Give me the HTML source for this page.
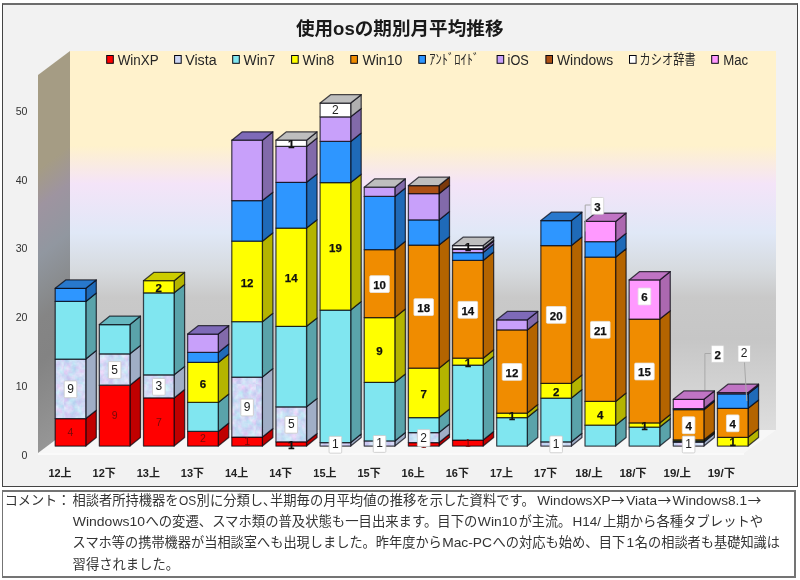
<!DOCTYPE html>
<html lang="ja">
<head>
<meta charset="utf-8">
<title>使用osの期別月平均推移</title>
<style>
html,body{margin:0;padding:0;background:#fff;}
body{width:800px;height:580px;position:relative;overflow:hidden;font-family:"Liberation Sans","Noto Sans CJK JP",sans-serif;}
#chart{position:absolute;left:2px;top:2.8px;width:794px;height:481px;background:#f2f2f2;border:1px solid #444;border-top:2px solid #6c6c6c;box-sizing:content-box;}
#cbox{position:absolute;left:2px;top:489.6px;width:791px;height:84.8px;background:#fff;border:2px solid #747474;border-left-width:1.5px;box-sizing:content-box;}
svg text{font-family:"Liberation Sans","Noto Sans CJK JP",sans-serif;}
.title{font-size:18.67px;font-weight:bold;fill:#1a1a1a;}
.leg text{font-size:14px;fill:#262626;}
.ax text{font-size:10.6px;fill:#333;}
.cx text{font-size:11px;font-weight:bold;fill:#222;}
.cm text{font-size:13.33px;fill:#333;}
.cm text.ar{font-family:"Noto Sans CJK JP",sans-serif;}
.lx{font-size:10.5px;fill:#740a0a;}
.lr{font-size:12px;fill:#222;}
.lb{font-size:11.5px;font-weight:bold;fill:#111;stroke:#111;stroke-width:0.25px;}
</style>
</head>
<body>
<div id="chart"></div>
<div id="cbox"></div>
<svg width="800" height="580" viewBox="0 0 800 580" style="position:absolute;left:0;top:0">
<defs>
<linearGradient id="wallB" x1="0" y1="51" x2="0" y2="430" gradientUnits="userSpaceOnUse">
<stop offset="0" stop-color="#fff2cc"/>
<stop offset="0.25" stop-color="#fff2cc"/>
<stop offset="0.35" stop-color="#f4e4f8"/>
<stop offset="0.48" stop-color="#e0e8f7"/>
<stop offset="0.58" stop-color="#d6dade"/>
<stop offset="0.65" stop-color="#c9c9c9"/>
<stop offset="0.76" stop-color="#c6c6c6"/>
<stop offset="1" stop-color="#dedede"/>
</linearGradient>
<linearGradient id="wallS" x1="0" y1="75" x2="0" y2="453" gradientUnits="userSpaceOnUse">
<stop offset="0" stop-color="#a59c84"/>
<stop offset="0.25" stop-color="#a59c84"/>
<stop offset="0.35" stop-color="#9e94a0"/>
<stop offset="0.48" stop-color="#9197a0"/>
<stop offset="0.58" stop-color="#8a8d90"/>
<stop offset="0.65" stop-color="#858585"/>
<stop offset="0.76" stop-color="#838383"/>
<stop offset="1" stop-color="#969696"/>
</linearGradient>
<filter id="noise" x="0" y="0" width="100%" height="100%" color-interpolation-filters="sRGB">
<feTurbulence type="fractalNoise" baseFrequency="0.14" numOctaves="3" seed="7" result="n"/>
<feColorMatrix type="matrix" values="0.24 0.22 0 0 0.585  -0.18 0.22 0 0 0.835  0 0.08 0 0 0.92  0 0 0 0 1" />
</filter>
<pattern id="vistaF" x="0" y="0" width="64" height="64" patternUnits="userSpaceOnUse">
<rect width="64" height="64" fill="#ccd8f4"/>
<rect width="64" height="64" fill="#ccd8f4" filter="url(#noise)"/>
</pattern>
</defs>
<polygon points="38,453 70,430 776,430 744,453" fill="#f7f7f7"/>
<polygon points="38,453 744,453 744,455 38,455" fill="#fafafa"/>
<rect x="70" y="51" width="706" height="379" fill="url(#wallB)"/>
<rect x="38" y="75" width="32" height="378" fill="url(#wallS)" transform="matrix(1,-0.75,0,1,0,28.5)"/>
<g><polygon points="85.8,446 96.3,437.6 96.3,410.2 85.8,418.6" fill="#c00000" stroke="#05050f" stroke-width="1.25" stroke-opacity="0.72" stroke-linejoin="round"/><polygon points="55.2,446 85.8,446 85.8,418.6 55.2,418.6" fill="#ff0000" stroke="#05050f" stroke-width="1.25" stroke-opacity="0.72" stroke-linejoin="round"/><polygon points="85.8,418.6 96.3,410.2 96.3,350.6 85.8,359" fill="#a0aec6" stroke="#05050f" stroke-width="1.25" stroke-opacity="0.72" stroke-linejoin="round"/><polygon points="55.2,418.6 85.8,418.6 85.8,359 55.2,359" fill="url(#vistaF)" stroke="#05050f" stroke-width="1.25" stroke-opacity="0.72" stroke-linejoin="round"/><polygon points="85.8,359 96.3,350.6 96.3,293 85.8,301.4" fill="#5aa3aa" stroke="#05050f" stroke-width="1.25" stroke-opacity="0.72" stroke-linejoin="round"/><polygon points="55.2,359 85.8,359 85.8,301.4 55.2,301.4" fill="#80e6f0" stroke="#05050f" stroke-width="1.25" stroke-opacity="0.72" stroke-linejoin="round"/><polygon points="85.8,301.4 96.3,293 96.3,279.9 85.8,288.3" fill="#1f6ab8" stroke="#05050f" stroke-width="1.25" stroke-opacity="0.72" stroke-linejoin="round"/><polygon points="55.2,301.4 85.8,301.4 85.8,288.3 55.2,288.3" fill="#2e96ff" stroke="#05050f" stroke-width="1.25" stroke-opacity="0.72" stroke-linejoin="round"/><polygon points="55.2,288.3 85.8,288.3 96.3,279.9 65.7,279.9" fill="#2878cc" stroke="#05050f" stroke-width="1.25" stroke-opacity="0.72" stroke-linejoin="round"/></g>
<g><polygon points="129.95,446 140.45,437.6 140.45,376.8 129.95,385.2" fill="#c00000" stroke="#05050f" stroke-width="1.25" stroke-opacity="0.72" stroke-linejoin="round"/><polygon points="99.35,446 129.95,446 129.95,385.2 99.35,385.2" fill="#ff0000" stroke="#05050f" stroke-width="1.25" stroke-opacity="0.72" stroke-linejoin="round"/><polygon points="129.95,385.2 140.45,376.8 140.45,345.4 129.95,353.8" fill="#a0aec6" stroke="#05050f" stroke-width="1.25" stroke-opacity="0.72" stroke-linejoin="round"/><polygon points="99.35,385.2 129.95,385.2 129.95,353.8 99.35,353.8" fill="url(#vistaF)" stroke="#05050f" stroke-width="1.25" stroke-opacity="0.72" stroke-linejoin="round"/><polygon points="129.95,353.8 140.45,345.4 140.45,316.1 129.95,324.5" fill="#5aa3aa" stroke="#05050f" stroke-width="1.25" stroke-opacity="0.72" stroke-linejoin="round"/><polygon points="99.35,353.8 129.95,353.8 129.95,324.5 99.35,324.5" fill="#80e6f0" stroke="#05050f" stroke-width="1.25" stroke-opacity="0.72" stroke-linejoin="round"/><polygon points="99.35,324.5 129.95,324.5 140.45,316.1 109.85,316.1" fill="#66b8c0" stroke="#05050f" stroke-width="1.25" stroke-opacity="0.72" stroke-linejoin="round"/></g>
<g><polygon points="174.1,446 184.6,437.6 184.6,389.5 174.1,397.9" fill="#c00000" stroke="#05050f" stroke-width="1.25" stroke-opacity="0.72" stroke-linejoin="round"/><polygon points="143.5,446 174.1,446 174.1,397.9 143.5,397.9" fill="#ff0000" stroke="#05050f" stroke-width="1.25" stroke-opacity="0.72" stroke-linejoin="round"/><polygon points="174.1,397.9 184.6,389.5 184.6,366.4 174.1,374.8" fill="#a0aec6" stroke="#05050f" stroke-width="1.25" stroke-opacity="0.72" stroke-linejoin="round"/><polygon points="143.5,397.9 174.1,397.9 174.1,374.8 143.5,374.8" fill="url(#vistaF)" stroke="#05050f" stroke-width="1.25" stroke-opacity="0.72" stroke-linejoin="round"/><polygon points="174.1,374.8 184.6,366.4 184.6,284.4 174.1,292.8" fill="#5aa3aa" stroke="#05050f" stroke-width="1.25" stroke-opacity="0.72" stroke-linejoin="round"/><polygon points="143.5,374.8 174.1,374.8 174.1,292.8 143.5,292.8" fill="#80e6f0" stroke="#05050f" stroke-width="1.25" stroke-opacity="0.72" stroke-linejoin="round"/><polygon points="174.1,292.8 184.6,284.4 184.6,272.3 174.1,280.7" fill="#b4b400" stroke="#05050f" stroke-width="1.25" stroke-opacity="0.72" stroke-linejoin="round"/><polygon points="143.5,292.8 174.1,292.8 174.1,280.7 143.5,280.7" fill="#ffff00" stroke="#05050f" stroke-width="1.25" stroke-opacity="0.72" stroke-linejoin="round"/><polygon points="143.5,280.7 174.1,280.7 184.6,272.3 154,272.3" fill="#cccc00" stroke="#05050f" stroke-width="1.25" stroke-opacity="0.72" stroke-linejoin="round"/></g>
<g><polygon points="218.25,446 228.75,437.6 228.75,423 218.25,431.4" fill="#c00000" stroke="#05050f" stroke-width="1.25" stroke-opacity="0.72" stroke-linejoin="round"/><polygon points="187.65,446 218.25,446 218.25,431.4 187.65,431.4" fill="#ff0000" stroke="#05050f" stroke-width="1.25" stroke-opacity="0.72" stroke-linejoin="round"/><polygon points="218.25,431.4 228.75,423 228.75,394 218.25,402.4" fill="#5aa3aa" stroke="#05050f" stroke-width="1.25" stroke-opacity="0.72" stroke-linejoin="round"/><polygon points="187.65,431.4 218.25,431.4 218.25,402.4 187.65,402.4" fill="#80e6f0" stroke="#05050f" stroke-width="1.25" stroke-opacity="0.72" stroke-linejoin="round"/><polygon points="218.25,402.4 228.75,394 228.75,354 218.25,362.4" fill="#b4b400" stroke="#05050f" stroke-width="1.25" stroke-opacity="0.72" stroke-linejoin="round"/><polygon points="187.65,402.4 218.25,402.4 218.25,362.4 187.65,362.4" fill="#ffff00" stroke="#05050f" stroke-width="1.25" stroke-opacity="0.72" stroke-linejoin="round"/><polygon points="218.25,362.4 228.75,354 228.75,344 218.25,352.4" fill="#1f6ab8" stroke="#05050f" stroke-width="1.25" stroke-opacity="0.72" stroke-linejoin="round"/><polygon points="187.65,362.4 218.25,362.4 218.25,352.4 187.65,352.4" fill="#2e96ff" stroke="#05050f" stroke-width="1.25" stroke-opacity="0.72" stroke-linejoin="round"/><polygon points="218.25,352.4 228.75,344 228.75,325.7 218.25,334.1" fill="#826aaa" stroke="#05050f" stroke-width="1.25" stroke-opacity="0.72" stroke-linejoin="round"/><polygon points="187.65,352.4 218.25,352.4 218.25,334.1 187.65,334.1" fill="#c8a0fa" stroke="#05050f" stroke-width="1.25" stroke-opacity="0.72" stroke-linejoin="round"/><polygon points="187.65,334.1 218.25,334.1 228.75,325.7 198.15,325.7" fill="#7e6ab8" stroke="#05050f" stroke-width="1.25" stroke-opacity="0.72" stroke-linejoin="round"/></g>
<g><polygon points="262.4,446 272.9,437.6 272.9,428.6 262.4,437" fill="#c00000" stroke="#05050f" stroke-width="1.25" stroke-opacity="0.72" stroke-linejoin="round"/><polygon points="231.8,446 262.4,446 262.4,437 231.8,437" fill="#ff0000" stroke="#05050f" stroke-width="1.25" stroke-opacity="0.72" stroke-linejoin="round"/><polygon points="262.4,437 272.9,428.6 272.9,368.6 262.4,377" fill="#a0aec6" stroke="#05050f" stroke-width="1.25" stroke-opacity="0.72" stroke-linejoin="round"/><polygon points="231.8,437 262.4,437 262.4,377 231.8,377" fill="url(#vistaF)" stroke="#05050f" stroke-width="1.25" stroke-opacity="0.72" stroke-linejoin="round"/><polygon points="262.4,377 272.9,368.6 272.9,313.3 262.4,321.7" fill="#5aa3aa" stroke="#05050f" stroke-width="1.25" stroke-opacity="0.72" stroke-linejoin="round"/><polygon points="231.8,377 262.4,377 262.4,321.7 231.8,321.7" fill="#80e6f0" stroke="#05050f" stroke-width="1.25" stroke-opacity="0.72" stroke-linejoin="round"/><polygon points="262.4,321.7 272.9,313.3 272.9,232.8 262.4,241.2" fill="#b4b400" stroke="#05050f" stroke-width="1.25" stroke-opacity="0.72" stroke-linejoin="round"/><polygon points="231.8,321.7 262.4,321.7 262.4,241.2 231.8,241.2" fill="#ffff00" stroke="#05050f" stroke-width="1.25" stroke-opacity="0.72" stroke-linejoin="round"/><polygon points="262.4,241.2 272.9,232.8 272.9,192.2 262.4,200.6" fill="#1f6ab8" stroke="#05050f" stroke-width="1.25" stroke-opacity="0.72" stroke-linejoin="round"/><polygon points="231.8,241.2 262.4,241.2 262.4,200.6 231.8,200.6" fill="#2e96ff" stroke="#05050f" stroke-width="1.25" stroke-opacity="0.72" stroke-linejoin="round"/><polygon points="262.4,200.6 272.9,192.2 272.9,131.8 262.4,140.2" fill="#826aaa" stroke="#05050f" stroke-width="1.25" stroke-opacity="0.72" stroke-linejoin="round"/><polygon points="231.8,200.6 262.4,200.6 262.4,140.2 231.8,140.2" fill="#c8a0fa" stroke="#05050f" stroke-width="1.25" stroke-opacity="0.72" stroke-linejoin="round"/><polygon points="231.8,140.2 262.4,140.2 272.9,131.8 242.3,131.8" fill="#7e6ab8" stroke="#05050f" stroke-width="1.25" stroke-opacity="0.72" stroke-linejoin="round"/></g>
<g><polygon points="306.55,446 317.05,437.6 317.05,433.4 306.55,441.8" fill="#c00000" stroke="#05050f" stroke-width="1.25" stroke-opacity="0.72" stroke-linejoin="round"/><polygon points="275.95,446 306.55,446 306.55,441.8 275.95,441.8" fill="#ff0000" stroke="#05050f" stroke-width="1.25" stroke-opacity="0.72" stroke-linejoin="round"/><polygon points="306.55,441.8 317.05,433.4 317.05,398.4 306.55,406.8" fill="#a0aec6" stroke="#05050f" stroke-width="1.25" stroke-opacity="0.72" stroke-linejoin="round"/><polygon points="275.95,441.8 306.55,441.8 306.55,406.8 275.95,406.8" fill="url(#vistaF)" stroke="#05050f" stroke-width="1.25" stroke-opacity="0.72" stroke-linejoin="round"/><polygon points="306.55,406.8 317.05,398.4 317.05,317.9 306.55,326.3" fill="#5aa3aa" stroke="#05050f" stroke-width="1.25" stroke-opacity="0.72" stroke-linejoin="round"/><polygon points="275.95,406.8 306.55,406.8 306.55,326.3 275.95,326.3" fill="#80e6f0" stroke="#05050f" stroke-width="1.25" stroke-opacity="0.72" stroke-linejoin="round"/><polygon points="306.55,326.3 317.05,317.9 317.05,219.7 306.55,228.1" fill="#b4b400" stroke="#05050f" stroke-width="1.25" stroke-opacity="0.72" stroke-linejoin="round"/><polygon points="275.95,326.3 306.55,326.3 306.55,228.1 275.95,228.1" fill="#ffff00" stroke="#05050f" stroke-width="1.25" stroke-opacity="0.72" stroke-linejoin="round"/><polygon points="306.55,228.1 317.05,219.7 317.05,173.9 306.55,182.3" fill="#1f6ab8" stroke="#05050f" stroke-width="1.25" stroke-opacity="0.72" stroke-linejoin="round"/><polygon points="275.95,228.1 306.55,228.1 306.55,182.3 275.95,182.3" fill="#2e96ff" stroke="#05050f" stroke-width="1.25" stroke-opacity="0.72" stroke-linejoin="round"/><polygon points="306.55,182.3 317.05,173.9 317.05,138 306.55,146.4" fill="#826aaa" stroke="#05050f" stroke-width="1.25" stroke-opacity="0.72" stroke-linejoin="round"/><polygon points="275.95,182.3 306.55,182.3 306.55,146.4 275.95,146.4" fill="#c8a0fa" stroke="#05050f" stroke-width="1.25" stroke-opacity="0.72" stroke-linejoin="round"/><polygon points="306.55,146.4 317.05,138 317.05,131.8 306.55,140.2" fill="#b0b0b0" stroke="#05050f" stroke-width="1.25" stroke-opacity="0.72" stroke-linejoin="round"/><polygon points="275.95,146.4 306.55,146.4 306.55,140.2 275.95,140.2" fill="#ffffff" stroke="#05050f" stroke-width="1.25" stroke-opacity="0.72" stroke-linejoin="round"/><polygon points="275.95,140.2 306.55,140.2 317.05,131.8 286.45,131.8" fill="#bebebe" stroke="#05050f" stroke-width="1.25" stroke-opacity="0.72" stroke-linejoin="round"/></g>
<g><polygon points="350.7,446 361.2,437.6 361.2,434.1 350.7,442.5" fill="#a0aec6" stroke="#05050f" stroke-width="1.25" stroke-opacity="0.72" stroke-linejoin="round"/><polygon points="320.1,446 350.7,446 350.7,442.5 320.1,442.5" fill="url(#vistaF)" stroke="#05050f" stroke-width="1.25" stroke-opacity="0.72" stroke-linejoin="round"/><polygon points="350.7,442.5 361.2,434.1 361.2,301.6 350.7,310" fill="#5aa3aa" stroke="#05050f" stroke-width="1.25" stroke-opacity="0.72" stroke-linejoin="round"/><polygon points="320.1,442.5 350.7,442.5 350.7,310 320.1,310" fill="#80e6f0" stroke="#05050f" stroke-width="1.25" stroke-opacity="0.72" stroke-linejoin="round"/><polygon points="350.7,310 361.2,301.6 361.2,174.2 350.7,182.6" fill="#b4b400" stroke="#05050f" stroke-width="1.25" stroke-opacity="0.72" stroke-linejoin="round"/><polygon points="320.1,310 350.7,310 350.7,182.6 320.1,182.6" fill="#ffff00" stroke="#05050f" stroke-width="1.25" stroke-opacity="0.72" stroke-linejoin="round"/><polygon points="350.7,182.6 361.2,174.2 361.2,133 350.7,141.4" fill="#1f6ab8" stroke="#05050f" stroke-width="1.25" stroke-opacity="0.72" stroke-linejoin="round"/><polygon points="320.1,182.6 350.7,182.6 350.7,141.4 320.1,141.4" fill="#2e96ff" stroke="#05050f" stroke-width="1.25" stroke-opacity="0.72" stroke-linejoin="round"/><polygon points="350.7,141.4 361.2,133 361.2,108.4 350.7,116.8" fill="#826aaa" stroke="#05050f" stroke-width="1.25" stroke-opacity="0.72" stroke-linejoin="round"/><polygon points="320.1,141.4 350.7,141.4 350.7,116.8 320.1,116.8" fill="#c8a0fa" stroke="#05050f" stroke-width="1.25" stroke-opacity="0.72" stroke-linejoin="round"/><polygon points="350.7,116.8 361.2,108.4 361.2,94.7 350.7,103.1" fill="#b0b0b0" stroke="#05050f" stroke-width="1.25" stroke-opacity="0.72" stroke-linejoin="round"/><polygon points="320.1,116.8 350.7,116.8 350.7,103.1 320.1,103.1" fill="#ffffff" stroke="#05050f" stroke-width="1.25" stroke-opacity="0.72" stroke-linejoin="round"/><polygon points="320.1,103.1 350.7,103.1 361.2,94.7 330.6,94.7" fill="#bebebe" stroke="#05050f" stroke-width="1.25" stroke-opacity="0.72" stroke-linejoin="round"/></g>
<g><polygon points="394.85,446 405.35,437.6 405.35,432.5 394.85,440.9" fill="#a0aec6" stroke="#05050f" stroke-width="1.25" stroke-opacity="0.72" stroke-linejoin="round"/><polygon points="364.25,446 394.85,446 394.85,440.9 364.25,440.9" fill="url(#vistaF)" stroke="#05050f" stroke-width="1.25" stroke-opacity="0.72" stroke-linejoin="round"/><polygon points="394.85,440.9 405.35,432.5 405.35,373.9 394.85,382.3" fill="#5aa3aa" stroke="#05050f" stroke-width="1.25" stroke-opacity="0.72" stroke-linejoin="round"/><polygon points="364.25,440.9 394.85,440.9 394.85,382.3 364.25,382.3" fill="#80e6f0" stroke="#05050f" stroke-width="1.25" stroke-opacity="0.72" stroke-linejoin="round"/><polygon points="394.85,382.3 405.35,373.9 405.35,309.1 394.85,317.5" fill="#b4b400" stroke="#05050f" stroke-width="1.25" stroke-opacity="0.72" stroke-linejoin="round"/><polygon points="364.25,382.3 394.85,382.3 394.85,317.5 364.25,317.5" fill="#ffff00" stroke="#05050f" stroke-width="1.25" stroke-opacity="0.72" stroke-linejoin="round"/><polygon points="394.85,317.5 405.35,309.1 405.35,241.3 394.85,249.7" fill="#b46400" stroke="#05050f" stroke-width="1.25" stroke-opacity="0.72" stroke-linejoin="round"/><polygon points="364.25,317.5 394.85,317.5 394.85,249.7 364.25,249.7" fill="#f08c00" stroke="#05050f" stroke-width="1.25" stroke-opacity="0.72" stroke-linejoin="round"/><polygon points="394.85,249.7 405.35,241.3 405.35,188 394.85,196.4" fill="#1f6ab8" stroke="#05050f" stroke-width="1.25" stroke-opacity="0.72" stroke-linejoin="round"/><polygon points="364.25,249.7 394.85,249.7 394.85,196.4 364.25,196.4" fill="#2e96ff" stroke="#05050f" stroke-width="1.25" stroke-opacity="0.72" stroke-linejoin="round"/><polygon points="394.85,196.4 405.35,188 405.35,178.8 394.85,187.2" fill="#826aaa" stroke="#05050f" stroke-width="1.25" stroke-opacity="0.72" stroke-linejoin="round"/><polygon points="364.25,196.4 394.85,196.4 394.85,187.2 364.25,187.2" fill="#c8a0fa" stroke="#05050f" stroke-width="1.25" stroke-opacity="0.72" stroke-linejoin="round"/><polygon points="364.25,187.2 394.85,187.2 405.35,178.8 374.75,178.8" fill="#bebebe" stroke="#05050f" stroke-width="1.25" stroke-opacity="0.72" stroke-linejoin="round"/></g>
<g><polygon points="439,446 449.5,437.6 449.5,434.1 439,442.5" fill="#c00000" stroke="#05050f" stroke-width="1.25" stroke-opacity="0.72" stroke-linejoin="round"/><polygon points="408.4,446 439,446 439,442.5 408.4,442.5" fill="#ff0000" stroke="#05050f" stroke-width="1.25" stroke-opacity="0.72" stroke-linejoin="round"/><polygon points="439,442.5 449.5,434.1 449.5,424.1 439,432.5" fill="#a0aec6" stroke="#05050f" stroke-width="1.25" stroke-opacity="0.72" stroke-linejoin="round"/><polygon points="408.4,442.5 439,442.5 439,432.5 408.4,432.5" fill="url(#vistaF)" stroke="#05050f" stroke-width="1.25" stroke-opacity="0.72" stroke-linejoin="round"/><polygon points="439,432.5 449.5,424.1 449.5,409.1 439,417.5" fill="#5aa3aa" stroke="#05050f" stroke-width="1.25" stroke-opacity="0.72" stroke-linejoin="round"/><polygon points="408.4,432.5 439,432.5 439,417.5 408.4,417.5" fill="#80e6f0" stroke="#05050f" stroke-width="1.25" stroke-opacity="0.72" stroke-linejoin="round"/><polygon points="439,417.5 449.5,409.1 449.5,359.8 439,368.2" fill="#b4b400" stroke="#05050f" stroke-width="1.25" stroke-opacity="0.72" stroke-linejoin="round"/><polygon points="408.4,417.5 439,417.5 439,368.2 408.4,368.2" fill="#ffff00" stroke="#05050f" stroke-width="1.25" stroke-opacity="0.72" stroke-linejoin="round"/><polygon points="439,368.2 449.5,359.8 449.5,236.7 439,245.1" fill="#b46400" stroke="#05050f" stroke-width="1.25" stroke-opacity="0.72" stroke-linejoin="round"/><polygon points="408.4,368.2 439,368.2 439,245.1 408.4,245.1" fill="#f08c00" stroke="#05050f" stroke-width="1.25" stroke-opacity="0.72" stroke-linejoin="round"/><polygon points="439,245.1 449.5,236.7 449.5,211.5 439,219.9" fill="#1f6ab8" stroke="#05050f" stroke-width="1.25" stroke-opacity="0.72" stroke-linejoin="round"/><polygon points="408.4,245.1 439,245.1 439,219.9 408.4,219.9" fill="#2e96ff" stroke="#05050f" stroke-width="1.25" stroke-opacity="0.72" stroke-linejoin="round"/><polygon points="439,219.9 449.5,211.5 449.5,185.3 439,193.7" fill="#826aaa" stroke="#05050f" stroke-width="1.25" stroke-opacity="0.72" stroke-linejoin="round"/><polygon points="408.4,219.9 439,219.9 439,193.7 408.4,193.7" fill="#c8a0fa" stroke="#05050f" stroke-width="1.25" stroke-opacity="0.72" stroke-linejoin="round"/><polygon points="439,193.7 449.5,185.3 449.5,177.1 439,185.5" fill="#7c3a0c" stroke="#05050f" stroke-width="1.25" stroke-opacity="0.72" stroke-linejoin="round"/><polygon points="408.4,193.7 439,193.7 439,185.5 408.4,185.5" fill="#ac5014" stroke="#05050f" stroke-width="1.25" stroke-opacity="0.72" stroke-linejoin="round"/><polygon points="408.4,185.5 439,185.5 449.5,177.1 418.9,177.1" fill="#bebebe" stroke="#05050f" stroke-width="1.25" stroke-opacity="0.72" stroke-linejoin="round"/></g>
<g><polygon points="483.15,446 493.65,437.6 493.65,431.6 483.15,440" fill="#c00000" stroke="#05050f" stroke-width="1.25" stroke-opacity="0.72" stroke-linejoin="round"/><polygon points="452.55,446 483.15,446 483.15,440 452.55,440" fill="#ff0000" stroke="#05050f" stroke-width="1.25" stroke-opacity="0.72" stroke-linejoin="round"/><polygon points="483.15,440 493.65,431.6 493.65,356.6 483.15,365" fill="#5aa3aa" stroke="#05050f" stroke-width="1.25" stroke-opacity="0.72" stroke-linejoin="round"/><polygon points="452.55,440 483.15,440 483.15,365 452.55,365" fill="#80e6f0" stroke="#05050f" stroke-width="1.25" stroke-opacity="0.72" stroke-linejoin="round"/><polygon points="483.15,365 493.65,356.6 493.65,349.8 483.15,358.2" fill="#b4b400" stroke="#05050f" stroke-width="1.25" stroke-opacity="0.72" stroke-linejoin="round"/><polygon points="452.55,365 483.15,365 483.15,358.2 452.55,358.2" fill="#ffff00" stroke="#05050f" stroke-width="1.25" stroke-opacity="0.72" stroke-linejoin="round"/><polygon points="483.15,358.2 493.65,349.8 493.65,252 483.15,260.4" fill="#b46400" stroke="#05050f" stroke-width="1.25" stroke-opacity="0.72" stroke-linejoin="round"/><polygon points="452.55,358.2 483.15,358.2 483.15,260.4 452.55,260.4" fill="#f08c00" stroke="#05050f" stroke-width="1.25" stroke-opacity="0.72" stroke-linejoin="round"/><polygon points="483.15,260.4 493.65,252 493.65,244.1 483.15,252.5" fill="#1f6ab8" stroke="#05050f" stroke-width="1.25" stroke-opacity="0.72" stroke-linejoin="round"/><polygon points="452.55,260.4 483.15,260.4 483.15,252.5 452.55,252.5" fill="#2e96ff" stroke="#05050f" stroke-width="1.25" stroke-opacity="0.72" stroke-linejoin="round"/><polygon points="483.15,252.5 493.65,244.1 493.65,241 483.15,249.4" fill="#826aaa" stroke="#05050f" stroke-width="1.25" stroke-opacity="0.72" stroke-linejoin="round"/><polygon points="452.55,252.5 483.15,252.5 483.15,249.4 452.55,249.4" fill="#c8a0fa" stroke="#05050f" stroke-width="1.25" stroke-opacity="0.72" stroke-linejoin="round"/><polygon points="483.15,249.4 493.65,241 493.65,240.2 483.15,248.6" fill="#7c3a0c" stroke="#05050f" stroke-width="1.25" stroke-opacity="0.72" stroke-linejoin="round"/><polygon points="452.55,249.4 483.15,249.4 483.15,248.6 452.55,248.6" fill="#ac5014" stroke="#05050f" stroke-width="1.25" stroke-opacity="0.72" stroke-linejoin="round"/><polygon points="483.15,248.6 493.65,240.2 493.65,237.2 483.15,245.6" fill="#b0b0b0" stroke="#05050f" stroke-width="1.25" stroke-opacity="0.72" stroke-linejoin="round"/><polygon points="452.55,248.6 483.15,248.6 483.15,245.6 452.55,245.6" fill="#ffffff" stroke="#05050f" stroke-width="1.25" stroke-opacity="0.72" stroke-linejoin="round"/><polygon points="452.55,245.6 483.15,245.6 493.65,237.2 463.05,237.2" fill="#bebebe" stroke="#05050f" stroke-width="1.25" stroke-opacity="0.72" stroke-linejoin="round"/></g>
<g><polygon points="527.3,446 537.8,437.6 537.8,409.1 527.3,417.5" fill="#5aa3aa" stroke="#05050f" stroke-width="1.25" stroke-opacity="0.72" stroke-linejoin="round"/><polygon points="496.7,446 527.3,446 527.3,417.5 496.7,417.5" fill="#80e6f0" stroke="#05050f" stroke-width="1.25" stroke-opacity="0.72" stroke-linejoin="round"/><polygon points="527.3,417.5 537.8,409.1 537.8,404.6 527.3,413" fill="#b4b400" stroke="#05050f" stroke-width="1.25" stroke-opacity="0.72" stroke-linejoin="round"/><polygon points="496.7,417.5 527.3,417.5 527.3,413 496.7,413" fill="#ffff00" stroke="#05050f" stroke-width="1.25" stroke-opacity="0.72" stroke-linejoin="round"/><polygon points="527.3,413 537.8,404.6 537.8,321.5 527.3,329.9" fill="#b46400" stroke="#05050f" stroke-width="1.25" stroke-opacity="0.72" stroke-linejoin="round"/><polygon points="496.7,413 527.3,413 527.3,329.9 496.7,329.9" fill="#f08c00" stroke="#05050f" stroke-width="1.25" stroke-opacity="0.72" stroke-linejoin="round"/><polygon points="527.3,329.9 537.8,321.5 537.8,311.4 527.3,319.8" fill="#826aaa" stroke="#05050f" stroke-width="1.25" stroke-opacity="0.72" stroke-linejoin="round"/><polygon points="496.7,329.9 527.3,329.9 527.3,319.8 496.7,319.8" fill="#c8a0fa" stroke="#05050f" stroke-width="1.25" stroke-opacity="0.72" stroke-linejoin="round"/><polygon points="496.7,319.8 527.3,319.8 537.8,311.4 507.2,311.4" fill="#7e6ab8" stroke="#05050f" stroke-width="1.25" stroke-opacity="0.72" stroke-linejoin="round"/></g>
<g><polygon points="571.45,446 581.95,437.6 581.95,433.35 571.45,441.75" fill="#a0aec6" stroke="#05050f" stroke-width="1.25" stroke-opacity="0.72" stroke-linejoin="round"/><polygon points="540.85,446 571.45,446 571.45,441.75 540.85,441.75" fill="url(#vistaF)" stroke="#05050f" stroke-width="1.25" stroke-opacity="0.72" stroke-linejoin="round"/><polygon points="571.45,441.75 581.95,433.35 581.95,389.6 571.45,398" fill="#5aa3aa" stroke="#05050f" stroke-width="1.25" stroke-opacity="0.72" stroke-linejoin="round"/><polygon points="540.85,441.75 571.45,441.75 571.45,398 540.85,398" fill="#80e6f0" stroke="#05050f" stroke-width="1.25" stroke-opacity="0.72" stroke-linejoin="round"/><polygon points="571.45,398 581.95,389.6 581.95,374.9 571.45,383.3" fill="#b4b400" stroke="#05050f" stroke-width="1.25" stroke-opacity="0.72" stroke-linejoin="round"/><polygon points="540.85,398 571.45,398 571.45,383.3 540.85,383.3" fill="#ffff00" stroke="#05050f" stroke-width="1.25" stroke-opacity="0.72" stroke-linejoin="round"/><polygon points="571.45,383.3 581.95,374.9 581.95,237.1 571.45,245.5" fill="#b46400" stroke="#05050f" stroke-width="1.25" stroke-opacity="0.72" stroke-linejoin="round"/><polygon points="540.85,383.3 571.45,383.3 571.45,245.5 540.85,245.5" fill="#f08c00" stroke="#05050f" stroke-width="1.25" stroke-opacity="0.72" stroke-linejoin="round"/><polygon points="571.45,245.5 581.95,237.1 581.95,212.2 571.45,220.6" fill="#1f6ab8" stroke="#05050f" stroke-width="1.25" stroke-opacity="0.72" stroke-linejoin="round"/><polygon points="540.85,245.5 571.45,245.5 571.45,220.6 540.85,220.6" fill="#2e96ff" stroke="#05050f" stroke-width="1.25" stroke-opacity="0.72" stroke-linejoin="round"/><polygon points="540.85,220.6 571.45,220.6 581.95,212.2 551.35,212.2" fill="#2878cc" stroke="#05050f" stroke-width="1.25" stroke-opacity="0.72" stroke-linejoin="round"/></g>
<g><polygon points="615.6,446 626.1,437.6 626.1,416.8 615.6,425.2" fill="#5aa3aa" stroke="#05050f" stroke-width="1.25" stroke-opacity="0.72" stroke-linejoin="round"/><polygon points="585,446 615.6,446 615.6,425.2 585,425.2" fill="#80e6f0" stroke="#05050f" stroke-width="1.25" stroke-opacity="0.72" stroke-linejoin="round"/><polygon points="615.6,425.2 626.1,416.8 626.1,393 615.6,401.4" fill="#b4b400" stroke="#05050f" stroke-width="1.25" stroke-opacity="0.72" stroke-linejoin="round"/><polygon points="585,425.2 615.6,425.2 615.6,401.4 585,401.4" fill="#ffff00" stroke="#05050f" stroke-width="1.25" stroke-opacity="0.72" stroke-linejoin="round"/><polygon points="615.6,401.4 626.1,393 626.1,248.8 615.6,257.2" fill="#b46400" stroke="#05050f" stroke-width="1.25" stroke-opacity="0.72" stroke-linejoin="round"/><polygon points="585,401.4 615.6,401.4 615.6,257.2 585,257.2" fill="#f08c00" stroke="#05050f" stroke-width="1.25" stroke-opacity="0.72" stroke-linejoin="round"/><polygon points="615.6,257.2 626.1,248.8 626.1,233.3 615.6,241.7" fill="#1f6ab8" stroke="#05050f" stroke-width="1.25" stroke-opacity="0.72" stroke-linejoin="round"/><polygon points="585,257.2 615.6,257.2 615.6,241.7 585,241.7" fill="#2e96ff" stroke="#05050f" stroke-width="1.25" stroke-opacity="0.72" stroke-linejoin="round"/><polygon points="615.6,241.7 626.1,233.3 626.1,213 615.6,221.4" fill="#ac68b0" stroke="#05050f" stroke-width="1.25" stroke-opacity="0.72" stroke-linejoin="round"/><polygon points="585,241.7 615.6,241.7 615.6,221.4 585,221.4" fill="#ff99ff" stroke="#05050f" stroke-width="1.25" stroke-opacity="0.72" stroke-linejoin="round"/><polygon points="585,221.4 615.6,221.4 626.1,213 595.5,213" fill="#c074c4" stroke="#05050f" stroke-width="1.25" stroke-opacity="0.72" stroke-linejoin="round"/></g>
<g><polygon points="659.75,446 670.25,437.6 670.25,418.7 659.75,427.1" fill="#5aa3aa" stroke="#05050f" stroke-width="1.25" stroke-opacity="0.72" stroke-linejoin="round"/><polygon points="629.15,446 659.75,446 659.75,427.1 629.15,427.1" fill="#80e6f0" stroke="#05050f" stroke-width="1.25" stroke-opacity="0.72" stroke-linejoin="round"/><polygon points="659.75,427.1 670.25,418.7 670.25,414.5 659.75,422.9" fill="#b4b400" stroke="#05050f" stroke-width="1.25" stroke-opacity="0.72" stroke-linejoin="round"/><polygon points="629.15,427.1 659.75,427.1 659.75,422.9 629.15,422.9" fill="#ffff00" stroke="#05050f" stroke-width="1.25" stroke-opacity="0.72" stroke-linejoin="round"/><polygon points="659.75,422.9 670.25,414.5 670.25,310.7 659.75,319.1" fill="#b46400" stroke="#05050f" stroke-width="1.25" stroke-opacity="0.72" stroke-linejoin="round"/><polygon points="629.15,422.9 659.75,422.9 659.75,319.1 629.15,319.1" fill="#f08c00" stroke="#05050f" stroke-width="1.25" stroke-opacity="0.72" stroke-linejoin="round"/><polygon points="659.75,319.1 670.25,310.7 670.25,271.5 659.75,279.9" fill="#ac68b0" stroke="#05050f" stroke-width="1.25" stroke-opacity="0.72" stroke-linejoin="round"/><polygon points="629.15,319.1 659.75,319.1 659.75,279.9 629.15,279.9" fill="#ff99ff" stroke="#05050f" stroke-width="1.25" stroke-opacity="0.72" stroke-linejoin="round"/><polygon points="629.15,279.9 659.75,279.9 670.25,271.5 639.65,271.5" fill="#c074c4" stroke="#05050f" stroke-width="1.25" stroke-opacity="0.72" stroke-linejoin="round"/></g>
<g><polygon points="703.9,446 714.4,437.6 714.4,433.6 703.9,442" fill="#a0aec6" stroke="#05050f" stroke-width="1.25" stroke-opacity="0.72" stroke-linejoin="round"/><polygon points="673.3,446 703.9,446 703.9,442 673.3,442" fill="url(#vistaF)" stroke="#05050f" stroke-width="1.25" stroke-opacity="0.72" stroke-linejoin="round"/><polygon points="703.9,442 714.4,433.6 714.4,432.6 703.9,441" fill="#5aa3aa" stroke="#05050f" stroke-width="1.25" stroke-opacity="0.72" stroke-linejoin="round"/><polygon points="673.3,442 703.9,442 703.9,441 673.3,441" fill="#80e6f0" stroke="#05050f" stroke-width="1.25" stroke-opacity="0.72" stroke-linejoin="round"/><polygon points="703.9,441 714.4,432.6 714.4,431.4 703.9,439.8" fill="#b4b400" stroke="#05050f" stroke-width="1.25" stroke-opacity="0.72" stroke-linejoin="round"/><polygon points="673.3,441 703.9,441 703.9,439.8 673.3,439.8" fill="#ffff00" stroke="#05050f" stroke-width="1.25" stroke-opacity="0.72" stroke-linejoin="round"/><polygon points="703.9,439.8 714.4,431.4 714.4,401.3 703.9,409.7" fill="#b46400" stroke="#05050f" stroke-width="1.25" stroke-opacity="0.72" stroke-linejoin="round"/><polygon points="673.3,439.8 703.9,439.8 703.9,409.7 673.3,409.7" fill="#f08c00" stroke="#05050f" stroke-width="1.25" stroke-opacity="0.72" stroke-linejoin="round"/><polygon points="703.9,409.7 714.4,401.3 714.4,400.1 703.9,408.5" fill="#1f6ab8" stroke="#05050f" stroke-width="1.25" stroke-opacity="0.72" stroke-linejoin="round"/><polygon points="673.3,409.7 703.9,409.7 703.9,408.5 673.3,408.5" fill="#2e96ff" stroke="#05050f" stroke-width="1.25" stroke-opacity="0.72" stroke-linejoin="round"/><polygon points="703.9,408.5 714.4,400.1 714.4,390.9 703.9,399.3" fill="#ac68b0" stroke="#05050f" stroke-width="1.25" stroke-opacity="0.72" stroke-linejoin="round"/><polygon points="673.3,408.5 703.9,408.5 703.9,399.3 673.3,399.3" fill="#ff99ff" stroke="#05050f" stroke-width="1.25" stroke-opacity="0.72" stroke-linejoin="round"/><polygon points="673.3,399.3 703.9,399.3 714.4,390.9 683.8,390.9" fill="#c074c4" stroke="#05050f" stroke-width="1.25" stroke-opacity="0.72" stroke-linejoin="round"/></g>
<g><polygon points="748.05,446 758.55,437.6 758.55,428.9 748.05,437.3" fill="#b4b400" stroke="#05050f" stroke-width="1.25" stroke-opacity="0.72" stroke-linejoin="round"/><polygon points="717.45,446 748.05,446 748.05,437.3 717.45,437.3" fill="#ffff00" stroke="#05050f" stroke-width="1.25" stroke-opacity="0.72" stroke-linejoin="round"/><polygon points="748.05,437.3 758.55,428.9 758.55,399.9 748.05,408.3" fill="#b46400" stroke="#05050f" stroke-width="1.25" stroke-opacity="0.72" stroke-linejoin="round"/><polygon points="717.45,437.3 748.05,437.3 748.05,408.3 717.45,408.3" fill="#f08c00" stroke="#05050f" stroke-width="1.25" stroke-opacity="0.72" stroke-linejoin="round"/><polygon points="748.05,408.3 758.55,399.9 758.55,385.4 748.05,393.8" fill="#1f6ab8" stroke="#05050f" stroke-width="1.25" stroke-opacity="0.72" stroke-linejoin="round"/><polygon points="717.45,408.3 748.05,408.3 748.05,393.8 717.45,393.8" fill="#2e96ff" stroke="#05050f" stroke-width="1.25" stroke-opacity="0.72" stroke-linejoin="round"/><polygon points="748.05,393.8 758.55,385.4 758.55,384.2 748.05,392.6" fill="#ac68b0" stroke="#05050f" stroke-width="1.25" stroke-opacity="0.72" stroke-linejoin="round"/><polygon points="717.45,393.8 748.05,393.8 748.05,392.6 717.45,392.6" fill="#ff99ff" stroke="#05050f" stroke-width="1.25" stroke-opacity="0.72" stroke-linejoin="round"/><polygon points="717.45,392.6 748.05,392.6 758.55,384.2 727.95,384.2" fill="#c074c4" stroke="#05050f" stroke-width="1.25" stroke-opacity="0.72" stroke-linejoin="round"/></g>
<g text-anchor="middle">
<text class="lx" x="70.5" y="436">4</text>
<rect x="64.2" y="380.9" width="12.6" height="16.8" rx="1" fill="#fff" stroke="#c8c8c8" stroke-width="0.8"/><text class="lr" x="70.5" y="392.8">9</text>
<text class="lx" x="114.65" y="419.3">9</text>
<rect x="108.35" y="361.6" width="12.6" height="16.8" rx="1" fill="#fff" stroke="#c8c8c8" stroke-width="0.8"/><text class="lr" x="114.65" y="373.5">5</text>
<text class="lx" x="158.8" y="425.65">7</text>
<rect x="152.5" y="378.45" width="12.6" height="16.8" rx="1" fill="#fff" stroke="#c8c8c8" stroke-width="0.8"/><text class="lr" x="158.8" y="390.35">3</text>
<text class="lb" x="158.8" y="291.95">2</text>
<text class="lx" x="202.95" y="442.4">2</text>
<text class="lb" x="202.95" y="387.6">6</text>
<text class="lx" x="247.1" y="445.2">1</text>
<rect x="240.8" y="399.1" width="12.6" height="16.8" rx="1" fill="#fff" stroke="#c8c8c8" stroke-width="0.8"/><text class="lr" x="247.1" y="411">9</text>
<text class="lb" x="247.1" y="286.65">12</text>
<text class="lb" x="291.25" y="449.1">1</text>
<rect x="284.95" y="416.4" width="12.6" height="16.8" rx="1" fill="#fff" stroke="#c8c8c8" stroke-width="0.8"/><text class="lr" x="291.25" y="428.3">5</text>
<text class="lb" x="291.25" y="282.4">14</text>
<text class="lb" x="291.25" y="147.5">1</text>
<rect x="329.1" y="436.35" width="12.6" height="16.8" rx="1" fill="#fff" stroke="#c8c8c8" stroke-width="0.8"/><text class="lr" x="335.4" y="448.25">1</text>
<text class="lb" x="335.4" y="251.5">19</text>
<text class="lr" x="335.4" y="113.95">2</text>
<rect x="373.25" y="435.55" width="12.6" height="16.8" rx="1" fill="#fff" stroke="#c8c8c8" stroke-width="0.8"/><text class="lr" x="379.55" y="447.45">1</text>
<text class="lb" x="379.55" y="355.1">9</text>
<rect x="369.8" y="275.7" width="19.5" height="16.8" rx="1" fill="#fff" stroke="#e6e6e6" stroke-width="0.8"/><text class="lb" x="379.55" y="288.8">10</text>
<text class="lx" x="423.7" y="447.95">1</text>
<rect x="417.4" y="429.6" width="12.6" height="16.8" rx="1" fill="#fff" stroke="#c8c8c8" stroke-width="0.8"/><text class="lr" x="423.7" y="441.5">2</text>
<text class="lb" x="423.7" y="398.05">7</text>
<rect x="413.95" y="298.75" width="19.5" height="16.8" rx="1" fill="#fff" stroke="#e6e6e6" stroke-width="0.8"/><text class="lb" x="423.7" y="311.85">18</text>
<text class="lx" x="467.85" y="446.7">1</text>
<text class="lb" x="467.85" y="366.8">1</text>
<rect x="458.1" y="301.4" width="19.5" height="16.8" rx="1" fill="#fff" stroke="#e6e6e6" stroke-width="0.8"/><text class="lb" x="467.85" y="314.5">14</text>
<text class="lb" x="467.85" y="250.9">1</text>
<text class="lb" x="512" y="420.45">1</text>
<rect x="502.25" y="363.55" width="19.5" height="16.8" rx="1" fill="#fff" stroke="#e6e6e6" stroke-width="0.8"/><text class="lb" x="512" y="376.65">12</text>
<rect x="549.85" y="435.98" width="12.6" height="16.8" rx="1" fill="#fff" stroke="#c8c8c8" stroke-width="0.8"/><text class="lr" x="556.15" y="447.88">1</text>
<text class="lb" x="556.15" y="395.85">2</text>
<rect x="546.4" y="306.5" width="19.5" height="16.8" rx="1" fill="#fff" stroke="#e6e6e6" stroke-width="0.8"/><text class="lb" x="556.15" y="319.6">20</text>
<text class="lb" x="600.3" y="418.5">4</text>
<rect x="590.55" y="321.4" width="19.5" height="16.8" rx="1" fill="#fff" stroke="#e6e6e6" stroke-width="0.8"/><text class="lb" x="600.3" y="334.5">21</text>
<text class="lb" x="644.45" y="430.2">1</text>
<rect x="634.7" y="363.1" width="19.5" height="16.8" rx="1" fill="#fff" stroke="#e6e6e6" stroke-width="0.8"/><text class="lb" x="644.45" y="376.2">15</text>
<rect x="638.15" y="288.1" width="12.6" height="16.8" rx="1" fill="#fff" stroke="#e6e6e6" stroke-width="0.8"/><text class="lb" x="644.45" y="301.2">6</text>
<rect x="682.3" y="436.1" width="12.6" height="16.8" rx="1" fill="#fff" stroke="#c8c8c8" stroke-width="0.8"/><text class="lr" x="688.6" y="448">1</text>
<rect x="682.3" y="416.85" width="12.6" height="16.8" rx="1" fill="#fff" stroke="#e6e6e6" stroke-width="0.8"/><text class="lb" x="688.6" y="429.95">4</text>
<text class="lb" x="732.75" y="446.05">1</text>
<rect x="726.45" y="414.9" width="12.6" height="16.8" rx="1" fill="#fff" stroke="#e6e6e6" stroke-width="0.8"/><text class="lb" x="732.75" y="428">4</text>
<polyline points="590.7,205 585.2,205 585.2,231.5" fill="none" stroke="#a8a8a8" stroke-width="1"/>
<rect x="591.1" y="197.5" width="12.6" height="16.8" rx="1" fill="#fff" stroke="#cfcfcf" stroke-width="0.8"/><text class="lb" x="597.4" y="210.6">3</text>
<polyline points="711,353.5 704.9,353.5 704.9,390" fill="none" stroke="#a8a8a8" stroke-width="1"/>
<rect x="711.3" y="345.6" width="12.6" height="16.8" rx="1" fill="#fff" stroke="#cfcfcf" stroke-width="0.8"/><text class="lb" x="717.6" y="358.7">2</text>
<polyline points="744.4,361.5 746.8,401" fill="none" stroke="#a8a8a8" stroke-width="1"/>
<rect x="737.9" y="345.3" width="12.6" height="16.8" rx="1" fill="#fff" stroke="#c8c8c8" stroke-width="0.8"/><text class="lr" x="744.2" y="357.2">2</text>
</g>
<g class="ax" text-anchor="end">
<text x="27.5" y="114.9">50</text>
<text x="27.5" y="183.8">40</text>
<text x="27.5" y="252.4">30</text>
<text x="27.5" y="321.1">20</text>
<text x="27.5" y="389.8">10</text>
<text x="27.5" y="458.5">0</text>
</g>
<g class="cx" text-anchor="middle">
<text x="60" y="476.5">12上</text>
<text x="104.15" y="476.5">12下</text>
<text x="148.3" y="476.5">13上</text>
<text x="192.45" y="476.5">13下</text>
<text x="236.6" y="476.5">14上</text>
<text x="280.75" y="476.5">14下</text>
<text x="324.9" y="476.5">15上</text>
<text x="369.05" y="476.5">15下</text>
<text x="413.2" y="476.5">16上</text>
<text x="457.35" y="476.5">16下</text>
<text x="501.5" y="476.5">17上</text>
<text x="545.65" y="476.5">17下</text>
<text x="589" y="476.5" textLength="27.4" lengthAdjust="spacingAndGlyphs">18/上</text>
<text x="633.15" y="476.5" textLength="27.4" lengthAdjust="spacingAndGlyphs">18/下</text>
<text x="677.3" y="476.5" textLength="27.4" lengthAdjust="spacingAndGlyphs">19/上</text>
<text x="721.45" y="476.5" textLength="27.4" lengthAdjust="spacingAndGlyphs">19/下</text>
</g>
<text class="title" x="399.7" y="35" text-anchor="middle" textLength="207.6" lengthAdjust="spacingAndGlyphs">使用osの期別月平均推移</text>
<g class="leg">
<rect x="106.7" y="55.5" width="6.6" height="7.8" fill="#ff0000" stroke="#05050f" stroke-width="1"/>
<text x="117.7" y="64.6" textLength="40.9" lengthAdjust="spacingAndGlyphs">WinXP</text>
<rect x="174.6" y="55.5" width="6.6" height="7.8" fill="#ccd6f4" stroke="#05050f" stroke-width="1"/>
<text x="185.2" y="64.6" textLength="31.4" lengthAdjust="spacingAndGlyphs">Vista</text>
<rect x="232.7" y="55.5" width="6.6" height="7.8" fill="#80e6f0" stroke="#05050f" stroke-width="1"/>
<text x="243.6" y="64.6" textLength="31.6" lengthAdjust="spacingAndGlyphs">Win7</text>
<rect x="291.6" y="55.5" width="6.6" height="7.8" fill="#ffff00" stroke="#05050f" stroke-width="1"/>
<text x="302.6" y="64.6" textLength="31.8" lengthAdjust="spacingAndGlyphs">Win8</text>
<rect x="350.8" y="55.5" width="6.6" height="7.8" fill="#f08c00" stroke="#05050f" stroke-width="1"/>
<text x="362.4" y="64.6" textLength="40" lengthAdjust="spacingAndGlyphs">Win10</text>
<rect x="418.8" y="55.5" width="6.6" height="7.8" fill="#2e96ff" stroke="#05050f" stroke-width="1"/>
<text x="429.2" y="63.8" textLength="50.1" lengthAdjust="spacingAndGlyphs">ｱﾝﾄﾞﾛｲﾄﾞ</text>
<rect x="497.1" y="55.5" width="6.6" height="7.8" fill="#c8a0fa" stroke="#05050f" stroke-width="1"/>
<text x="507.6" y="64.6" textLength="21.2" lengthAdjust="spacingAndGlyphs">iOS</text>
<rect x="545.9" y="55.5" width="6.6" height="7.8" fill="#ac5014" stroke="#05050f" stroke-width="1"/>
<text x="557" y="64.6" textLength="56.2" lengthAdjust="spacingAndGlyphs">Windows</text>
<rect x="629.5" y="55.5" width="6.6" height="7.8" fill="#ffffff" stroke="#05050f" stroke-width="1"/>
<text x="639.6" y="63.8" textLength="56" lengthAdjust="spacingAndGlyphs">カシオ辞書</text>
<rect x="711.7" y="55.5" width="6.6" height="7.8" fill="#ff99ff" stroke="#05050f" stroke-width="1"/>
<text x="723.2" y="64.6" textLength="25" lengthAdjust="spacingAndGlyphs">Mac</text>
</g>
<g class="cm">
<text x="4.7" y="505.1" textLength="65.7" lengthAdjust="spacingAndGlyphs">コメント：</text>
<text x="72.6" y="505.1" textLength="106" lengthAdjust="spacingAndGlyphs">相談者所持機器を</text>
<text x="179" y="505.1" textLength="17.2" lengthAdjust="spacingAndGlyphs">OS</text>
<text x="196.6" y="505.1" textLength="73.2" lengthAdjust="spacingAndGlyphs">別に分類し､</text>
<text x="270" y="505.1" textLength="264.8" lengthAdjust="spacingAndGlyphs">半期毎の月平均値の推移を示した資料です。</text>
<text x="537.2" y="505.1" textLength="73.4" lengthAdjust="spacingAndGlyphs">WindowsXP</text>
<text class="ar" x="611" y="505.1" textLength="13.6" lengthAdjust="spacingAndGlyphs">→</text>
<text x="626.2" y="505.1" textLength="30.8" lengthAdjust="spacingAndGlyphs">Viata</text>
<text class="ar" x="657.8" y="505.1" textLength="13.6" lengthAdjust="spacingAndGlyphs">→</text>
<text x="672.6" y="505.1" textLength="74.4" lengthAdjust="spacingAndGlyphs">Windows8.1</text>
<text class="ar" x="747.8" y="505.1" textLength="13.6" lengthAdjust="spacingAndGlyphs">→</text>
<text x="72.8" y="525.6" textLength="72.2" lengthAdjust="spacingAndGlyphs">Windows10</text>
<text x="145.4" y="525.6" textLength="332" lengthAdjust="spacingAndGlyphs">への変遷、スマホ類の普及状態も一目出来ます。目下の</text>
<text x="477.8" y="525.6" textLength="39.4" lengthAdjust="spacingAndGlyphs">Win10</text>
<text x="518.8" y="525.6" textLength="52.2" lengthAdjust="spacingAndGlyphs">が主流。</text>
<text x="572.4" y="525.6" textLength="28.6" lengthAdjust="spacingAndGlyphs">H14/</text>
<text x="603" y="525.6" textLength="160.2" lengthAdjust="spacingAndGlyphs">上期から各種タブレットや</text>
<text x="72.6" y="547" textLength="369.2" lengthAdjust="spacingAndGlyphs">スマホ等の携帯機器が当相談室へも出現しました。昨年度から</text>
<text x="442.2" y="547" textLength="49.8" lengthAdjust="spacingAndGlyphs">Mac-PC</text>
<text x="492.4" y="547" textLength="132.8" lengthAdjust="spacingAndGlyphs">への対応も始め、目下</text>
<text x="626.4" y="547" textLength="7.6" lengthAdjust="spacingAndGlyphs">1</text>
<text x="634.8" y="547" textLength="145.2" lengthAdjust="spacingAndGlyphs">名の相談者も基礎知識は</text>
<text x="72.6" y="569.3" textLength="106.4" lengthAdjust="spacingAndGlyphs">習得されました。</text>
</g>
</svg>
</body>
</html>
